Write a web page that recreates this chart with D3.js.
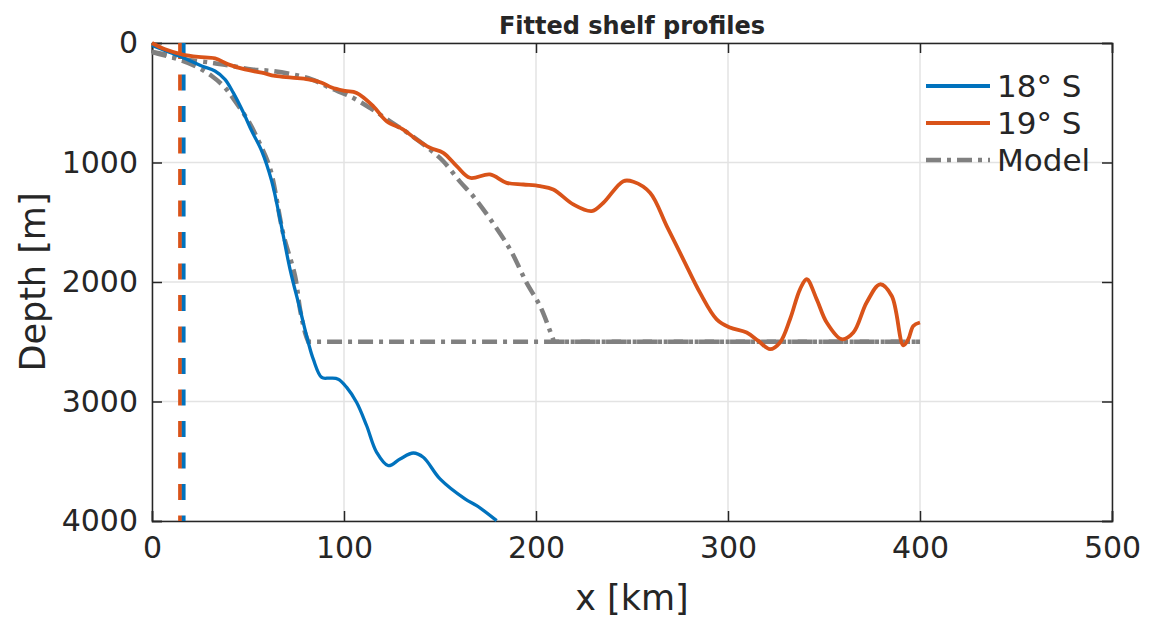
<!DOCTYPE html>
<html>
<head>
<meta charset="utf-8">
<script src="https://cdn.jsdelivr.net/npm/d3@7"></script>
<style>
  body { margin: 0; background: #fff; }
  text { font-family: "DejaVu Sans", sans-serif; fill: #262626; }
</style>
</head>
<body>
<svg id="chart" width="1153" height="620"></svg>
<script>
// profile at 18 S (blue)
var s18X = [0, 17.2, 25.9, 32.8, 38.0, 42.3, 47.6, 51.9, 57.1, 62.3, 66.7, 71.9, 77.1, 81.4, 84.0, 88.4, 92.7, 97.0, 101.4, 106.6, 111.8, 117.0, 123.1, 129.2, 136.1, 141.3, 150.0, 163.0, 169.1, 179.5]
var s18Depth = [20, 129, 192, 234, 304, 415, 582, 735, 902, 1153, 1476, 1894, 2228, 2506, 2646, 2799, 2804, 2813, 2882, 3008, 3203, 3425, 3537, 3481, 3431, 3467, 3648, 3815, 3871, 3997]

// profile at 19 S (orange)
var s19X = [0, 6.8, 15.5, 24.1, 32.8, 39.7, 48.4, 57.1, 64.1, 72.8, 81.4, 88.4, 93.6, 100.5, 106.6, 115.3, 122.2, 130.9, 137.8, 144.8, 151.7, 158.7, 165.6, 176.0, 184.7, 193.4, 202.1, 209.0, 219.4, 229.0, 235.1, 245.5, 250.7, 259.4, 268.1, 276.7, 285.4, 294.1, 301.0, 309.7, 315.8, 321.9, 327.1, 332.3, 337.5, 341.0, 346.2, 351.4, 359.2, 365.3, 372.2, 379.2, 385.3, 391.3, 393.9, 396.5, 400]
var s19Depth = [0, 53, 95, 117, 129, 179, 221, 248, 276, 290, 304, 332, 373, 401, 418, 530, 655, 724, 808, 877, 919, 1031, 1128, 1100, 1170, 1184, 1198, 1226, 1351, 1407, 1337, 1156, 1161, 1253, 1532, 1810, 2089, 2312, 2381, 2423, 2493, 2562, 2506, 2312, 2061, 1977, 2145, 2339, 2479, 2423, 2172, 2019, 2117, 2530, 2479, 2368, 2339]

// fitted models
var model18X = [0, 13.7, 22.4, 31.1, 38.0, 43.2, 50.2, 56.3, 61.5, 68.4, 74.5, 77.1, 79.7, 81.4, 400]
var model18Depth = [75, 137, 192, 276, 373, 485, 652, 847, 1050, 1600, 1950, 2228, 2423, 2500, 2500]
var model19X = [0, 6.8, 17.2, 31.1, 41.5, 51.9, 62.3, 72.8, 83.2, 92.7, 103.1, 113.5, 124.0, 134.4, 144.8, 151.7, 160.4, 167.3, 176.0, 186.5, 195.1, 202.1, 207.3, 209.4, 400]
var model19Depth = [75, 95, 137, 165, 192, 221, 234, 262, 304, 376, 446, 543, 655, 766, 891, 990, 1160, 1282, 1470, 1727, 2006, 2201, 2409, 2500, 2500]

// shelf break markers
var breakX = [14.6, 16.5]
var breakColors = ["#D95319", "#0072BD"]

var xTicks = [0, 100, 200, 300, 400, 500]
var yTicks = [0, 1000, 2000, 3000, 4000]

var legendNames = ["18° S", "19° S", "Model"]

var margin = {top: 43, left: 152}
var width = 960, height = 478
var svg = d3.select("#chart")
var g = svg.append("g").attr("transform", "translate(" + margin.left + "," + margin.top + ")")

var x = d3.scaleLinear().domain([0, 500]).range([0, width])
var y = d3.scaleLinear().domain([0, 4000]).range([0, height])

// grid
g.selectAll(".gx").data(xTicks).join("line")
    .attr("x1", d => x(d)).attr("x2", d => x(d))
    .attr("y1", 0).attr("y2", height)
    .attr("stroke", "#e3e3e3").attr("stroke-width", 1.5)
g.selectAll(".gy").data(yTicks).join("line")
    .attr("x1", 0).attr("x2", width)
    .attr("y1", d => y(d)).attr("y2", d => y(d))
    .attr("stroke", "#e3e3e3").attr("stroke-width", 1.5)

// axes
var axisBottom = d3.axisBottom(x).tickValues(xTicks).tickSize(-10).tickPadding(16).tickFormat(d3.format("d"))
var axisTop = d3.axisTop(x).tickValues(xTicks).tickSize(-10).tickFormat("")
var axisLeft = d3.axisLeft(y).tickValues(yTicks).tickSize(-10).tickPadding(14).tickFormat(d3.format("d"))
var axisRight = d3.axisRight(y).tickValues(yTicks).tickSize(-10).tickFormat("")

function styleAxis(sel) {
    sel.select(".domain").attr("stroke", "#262626").attr("stroke-width", 1.5)
    sel.selectAll(".tick line").attr("stroke", "#262626").attr("stroke-width", 1.5)
    sel.selectAll(".tick text").attr("font-size", 30).attr("font-family", "DejaVu Sans").attr("fill", "#262626")
}
g.append("g").attr("transform", "translate(0," + height + ")").call(axisBottom).call(styleAxis)
g.append("g").call(axisTop).call(styleAxis)
g.append("g").call(axisLeft).call(styleAxis)
g.append("g").attr("transform", "translate(" + width + ",0)").call(axisRight).call(styleAxis)

var line = d3.line()
    .x(d => x(d[0])).y(d => y(d[1]))
    .curve(d3.curveCatmullRom.alpha(0.5))

// shelf break markers
g.selectAll(".brk").data(breakX).join("line")
    .attr("x1", d => x(d)).attr("x2", d => x(d))
    .attr("y1", 0).attr("y2", height)
    .attr("stroke", (d, i) => breakColors[i])
    .attr("stroke-width", 3.8)
    .attr("stroke-dasharray", "16,15.5")

// models
var models = [d3.zip(model18X, model18Depth), d3.zip(model19X, model19Depth)]
models.forEach(function(m) {
    var last = m[m.length - 1]
    g.append("path")
        .attr("d", line(m.slice(0, m.length - 1)) + "L" + x(last[0]) + "," + y(last[1]))
        .attr("fill", "none")
        .attr("stroke", "#808080")
        .attr("stroke-width", 4.5)
        .attr("stroke-dasharray", "15,6,4,6")
})

// profiles
g.append("path")
    .attr("d", line(d3.zip(s18X, s18Depth)))
    .attr("fill", "none").attr("stroke", "#0072BD").attr("stroke-width", 3.3)
g.append("path")
    .attr("d", line(d3.zip(s19X, s19Depth)))
    .attr("fill", "none").attr("stroke", "#D95319").attr("stroke-width", 3.8)

// legend
var legColors = ["#0072BD", "#D95319", "#808080"]
var leg = svg.append("g").attr("transform", "translate(926,86)")
legendNames.forEach(function(name, i) {
    leg.append("line")
        .attr("x1", 0).attr("x2", 64)
        .attr("y1", i * 37).attr("y2", i * 37)
        .attr("stroke", legColors[i])
        .attr("stroke-width", i == 2 ? 4.5 : 3.8)
        .attr("stroke-dasharray", i == 2 ? "15,6,4,6" : null)
    leg.append("text")
        .attr("x", 71).attr("y", i * 37 + 11)
        .attr("font-size", 31)
        .attr("fill", "#000")
        .text(name)
})

// title and labels
svg.append("text")
    .attr("x", margin.left + width / 2).attr("y", 34)
    .attr("text-anchor", "middle")
    .attr("font-size", 24).attr("font-weight", "bold")
    .attr("fill", "#000")
    .text("Fitted shelf profiles")
svg.append("text")
    .attr("x", margin.left + width / 2).attr("y", 610)
    .attr("text-anchor", "middle")
    .attr("font-size", 35)
    .text("x [km]")
svg.append("text")
    .attr("transform", "translate(45," + (margin.top + height / 2) + ") rotate(-90)")
    .attr("text-anchor", "middle")
    .attr("font-size", 35)
    .text("Depth [m]")
</script>
</body>
</html>
